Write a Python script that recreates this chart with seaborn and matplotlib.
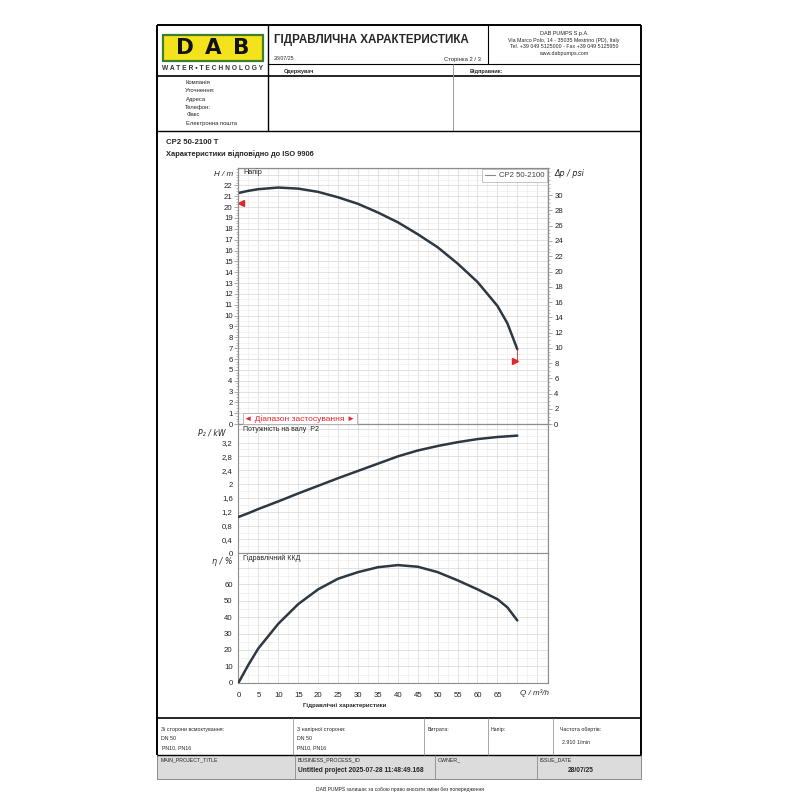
import numpy as np
import pandas as pd
import matplotlib
matplotlib.use("Agg")
import matplotlib.pyplot as plt
from matplotlib.ticker import MultipleLocator, FixedLocator, FuncFormatter
from matplotlib.patches import Rectangle
import seaborn as sns

# ---------------- data ----------------
model = "CP2 50-2100"
Q = [0, 2.5, 5, 10, 15, 20, 25, 30, 35, 40, 45, 50, 55, 60, 65, 67.5, 70]
H_m = [21.3, 21.5, 21.65, 21.8, 21.7, 21.4, 20.9, 20.3, 19.5, 18.6, 17.5, 16.3, 14.8, 13.1, 10.9, 9.3, 6.9]
P2_kW = [1.05, 1.16, 1.28, 1.50, 1.73, 1.95, 2.17, 2.38, 2.59, 2.80, 2.97, 3.10, 3.21, 3.30, 3.36, 3.38, 3.40]
eta_pct = [0, 11, 21, 36, 48, 57, 63.5, 67.5, 70.5, 71.8, 70.8, 67.5, 62.5, 57, 51, 46, 38]
range_Q = [0.7, 69.4]
range_H = [20.4, 5.85]

Q_ticks = list(range(0, 80, 5))
H_ticks = list(range(0, 23))
psi_ticks = list(range(0, 31, 2))
P_ticks = [0, 0.4, 0.8, 1.2, 1.6, 2.0, 2.4, 2.8, 3.2]
eta_ticks = [0, 10, 20, 30, 40, 50, 60]

Q_MAX = 77.7
H_MAX = 23.6
P_MAX = 3.73
ETA_MAX = 79.0
M_TO_PSI = 1.4219

sns.set_theme(style="white")
plt.rcParams['font.family'] = ['Liberation Sans', 'DejaVu Sans']

fig = plt.figure(figsize=(8, 8), dpi=100)
fig.patch.set_facecolor('white')

page = fig.add_axes([0, 0, 1, 1], zorder=0)
page.set_xlim(0, 800)
page.set_ylim(800, 0)
page.axis('off')

over = fig.add_axes([0, 0, 1, 1], zorder=10)
over.set_xlim(0, 800)
over.set_ylim(800, 0)
over.axis('off')
over.patch.set_alpha(0)

red = '#e3262b'
curve_c = '#2d3843'
gray = '#9a9a9a'


def T(x, y, s, size=4.5, ha='left', va='center', ax=page, **kw):
    ax.text(x, y, s, fontsize=size, ha=ha, va=va, **kw)


def L(x0, y0, x1, y1, c='black', lw=0.8, ax=page):
    ax.plot([x0, x1], [y0, y1], color=c, lw=lw, solid_capstyle='butt')


# ---------------- page frame ----------------
L(157, 25, 641, 25, lw=1.4)
L(157, 25, 157, 755, lw=1.4)
L(641, 25, 641, 755, lw=1.4)
L(268, 64, 641, 64, lw=0.8)
L(157, 76, 641, 76, lw=1.2)
L(268, 25, 268, 131, lw=1.0)
L(488, 25, 488, 64, lw=0.8)
L(453, 64, 453, 131, c=gray, lw=0.7)
L(157, 131, 641, 131, lw=1.0)
L(157, 718, 641, 718, lw=1.2)
L(157, 755, 641, 755, lw=1.0)
for xv in [293, 424, 488, 553]:
    L(xv, 718, xv, 755, c=gray, lw=0.6)
page.add_patch(Rectangle((157, 755), 484, 24, facecolor='#dcdcdc', edgecolor='#8a8a8a', lw=0.7))
for xv in [295, 435, 537]:
    L(xv, 755, xv, 779, c='#8a8a8a', lw=0.6)

# logo
page.add_patch(Rectangle((163, 35), 100, 26, facecolor='#f4e31c', edgecolor='#3f7f2c', lw=1.6))
for xc, ch in zip([185, 213, 241], "DAB"):
    T(xc, 48.5, ch, size=15.5, ha='center', weight='bold', color='#111111',
      family=['DejaVu Sans'])
T(213, 68.5, "W A T E R • T E C H N O L O G Y", size=4.8, ha='center', weight='bold', color='#333333')

# title block
T(274, 40, "ГІДРАВЛИЧНА ХАРАКТЕРИСТИКА", size=8.4, weight='bold')
T(274, 59, "28/07/25", size=3.8)
T(481, 59, "Сторінка 2 / 3", size=4.2, ha='right')
T(564, 34, "DAB PUMPS S.p.A.", size=4.0, ha='center')
T(564, 40.5, "Via Marco Polo, 14 - 35035 Mestrino (PD), Italy", size=3.8, ha='center')
T(564, 47, "Tel. +39 049 5125000 - Fax +39 049 5125950", size=3.8, ha='center')
T(564, 53.5, "www.dabpumps.com", size=3.8, ha='center')
T(284, 71, "Одержувач", size=4.0, weight='bold')
T(470, 71, "Відправник:", size=4.0, weight='bold')

for yy, s, xx in [(82, "Компанія", 185), (90, "Уточнення:", 185), (99, "Адреса", 186),
                  (107, "Телефон:", 185), (115, "Факс", 187), (124, "Електронна пошта", 186)]:
    T(xx, yy, s, size=4.2)

T(166, 142, "CP2 50-2100 T", size=5.6, weight='bold')
T(166, 154, "Характеристики відповідно до ISO 9906", size=5.4, weight='bold')

# bottom table
T(161, 729, "Зі сторони всмоктування:", size=3.8)
T(161, 739, "DN 50", size=3.8)
T(162, 748, "PN10, PN16", size=3.8)
T(297, 729, "З напірної сторони:", size=3.8)
T(297, 739, "DN 50", size=3.8)
T(297, 748, "PN10, PN16", size=3.8)
T(428, 729, "Витрата:", size=3.8)
T(491, 729, "Напір:", size=3.8)
T(560, 730, "Частота обертів:", size=3.8)
T(562, 742, "2.910 1/min", size=3.8)
T(161, 760, "MAIN_PROJECT_TITLE", size=3.8)
T(298, 760, "BUSINESS_PROCESS_ID", size=3.8)
T(298, 770.5, "Untitled project 2025-07-28 11:48:49.168", size=4.8, weight='bold')
T(438, 760, "OWNER_", size=3.8)
T(540, 760, "ISSUE_DATE", size=3.8)
T(568, 770.5, "28/07/25", size=4.8, weight='bold')
T(400, 790, "DAB PUMPS залишає за собою право вносити зміни без попередження", size=3.6, ha='center')

# ---------------- chart axes ----------------
X0, X1 = 238.5, 548.0
Y_TOP, Y_HP, Y_PE, Y_BOT = 168.0, 424.2, 553.3, 682.7


def rect(yt, yb):
    return [X0 / 800, 1 - yb / 800, (X1 - X0) / 800, (yb - yt) / 800]


ax_h = fig.add_axes(rect(Y_TOP, Y_HP), zorder=2)
ax_p = fig.add_axes(rect(Y_HP, Y_PE), zorder=2)
ax_e = fig.add_axes(rect(Y_PE, Y_BOT), zorder=2)

df = pd.DataFrame({'Q': Q, 'H': H_m, 'P2': P2_kW, 'eta': eta_pct, 'model': model})

sns.lineplot(data=df, x='Q', y='H', hue='model', palette=[curve_c], lw=1.8, ax=ax_h, zorder=3)
sns.lineplot(data=df, x='Q', y='P2', color=curve_c, lw=1.8, ax=ax_p, zorder=3)
sns.lineplot(data=df, x='Q', y='eta', color=curve_c, lw=1.8, ax=ax_e, zorder=3)

comma = FuncFormatter(lambda v, p: f"{v:g}".replace('.', ','))


def style(ax, ymax, yticks, yminor, gstep):
    ax.set_facecolor('white')
    ax.set_xlim(0, Q_MAX)
    ax.set_ylim(0, ymax)
    ax.set_xlabel('')
    ax.set_ylabel('')
    for i, q in enumerate(np.arange(2.5, Q_MAX, 2.5)):
        ax.axvline(q, color='#d6d6d6' if i % 2 == 1 else '#ededed', lw=0.5, zorder=0.5)
    for i, v in enumerate(np.arange(gstep, ymax, gstep)):
        ax.axhline(v, color='#d6d6d6' if i % 2 == 1 else '#ededed', lw=0.5, zorder=0.5)
    ax.yaxis.set_major_locator(FixedLocator(yticks))
    ax.yaxis.set_minor_locator(MultipleLocator(yminor))
    ax.yaxis.set_major_formatter(comma)
    ax.tick_params(axis='y', which='major', direction='out', length=3, width=0.5,
                   color='#888888', labelsize=5.6, pad=1.2, labelcolor='#222222')
    ax.tick_params(axis='y', which='minor', direction='out', length=1.6, width=0.4,
                   color='#888888')
    for sp in ax.spines.values():
        sp.set_color('#8c8c8c')
        sp.set_linewidth(0.8)


style(ax_h, H_MAX, H_ticks, 0.25, 0.5)
style(ax_p, P_MAX, P_ticks, 0.1, 0.2)
style(ax_e, ETA_MAX, eta_ticks, 2, 5)

for ax in (ax_h, ax_p):
    ax.tick_params(axis='x', which='both', length=0, labelbottom=False)

ax_e.xaxis.set_major_locator(FixedLocator(Q_ticks))
ax_e.xaxis.set_minor_locator(MultipleLocator(1))
ax_e.xaxis.set_major_formatter(FuncFormatter(lambda v, p: '' if v >= 70 else f"{v:g}"))
ax_e.tick_params(axis='x', which='major', direction='out', length=3, width=0.5,
                 color='#888888', labelsize=5.6, pad=3.5, labelcolor='#222222')
ax_e.tick_params(axis='x', which='minor', direction='out', length=1.6, width=0.4,
                 color='#888888')

# right psi axis
ax_r = ax_h.twinx()
ax_r.set_ylim(0, H_MAX * M_TO_PSI)
ax_r.yaxis.set_major_locator(FixedLocator(psi_ticks))
ax_r.yaxis.set_minor_locator(MultipleLocator(0.5))
ax_r.tick_params(axis='y', which='major', direction='out', length=3, width=0.5,
                 color='#888888', labelsize=5.6, pad=1.5, labelcolor='#222222')
ax_r.tick_params(axis='y', which='minor', direction='out', length=1.6, width=0.4, color='#888888')
for sp in ax_r.spines.values():
    sp.set_color('#8c8c8c')
    sp.set_linewidth(0.8)

# application range markers
ax_h.plot([range_Q[0]], [range_H[0]], marker='<', color=red, ms=4.5, ls='none', zorder=4)
ax_h.plot([range_Q[1]], [range_H[1]], marker='>', color=red, ms=4.5, ls='none', zorder=4)
ax_h.plot([Q[-1], Q[-1]], [range_H[1], H_m[-1]], color=red, lw=0.6, zorder=4)

# legend
leg = ax_h.legend(loc='upper right', fontsize=5.6, frameon=True, fancybox=False,
                  edgecolor='#aaaaaa', handlelength=1.3, borderpad=0.35, borderaxespad=0.15,
                  handletextpad=0.5)
leg.get_frame().set_linewidth(0.6)
for l in leg.get_lines():
    l.set_color('#888888')
    l.set_linewidth(0.8)
for t in leg.get_texts():
    t.set_color('#444444')

# panel titles & axis labels
T(243, 172, "Напір", size=5.2, ax=over, color='#222222')
T(243, 429.5, "Потужність на валу  P2", size=5.0, ax=over, color='#222222')
T(243, 558.5, "Гідравлічний ККД", size=5.0, ax=over, color='#222222')
T(233, 174, "H / m", size=5.8, ha='right', ax=over, style='italic')
T(555, 174, "Δp / psi", size=5.8, ax=over, style='italic', family=['DejaVu Sans'])
T(226, 433, "P₂ / kW", size=5.6, ha='right', ax=over, style='italic', family=['DejaVu Sans'])
T(233, 561, "η / %", size=5.8, ha='right', ax=over, style='italic', family=['DejaVu Sans'])
T(535, 693.5, "Q / m³/h", size=5.8, ha='center', ax=over, style='italic')
T(345, 706, "Гідравлічні характеристики", size=4.4, ha='center', ax=over, weight='bold')

# application range box
over.add_patch(Rectangle((242.5, 413), 114.5, 11, facecolor='white', edgecolor='#b0b0b0', lw=0.6, zorder=5))
L(246.5, 415, 246.5, 424, c=red, lw=0.8, ax=over)
L(353.5, 415, 353.5, 424, c=red, lw=0.8, ax=over)
T(300, 419.2, "◄ Діапазон застосування ►", size=6.0, ha='center', ax=over, color=red,
  family=['Liberation Sans', 'DejaVu Sans'], zorder=6)

fig.savefig("out.png", dpi=100, facecolor='white')
